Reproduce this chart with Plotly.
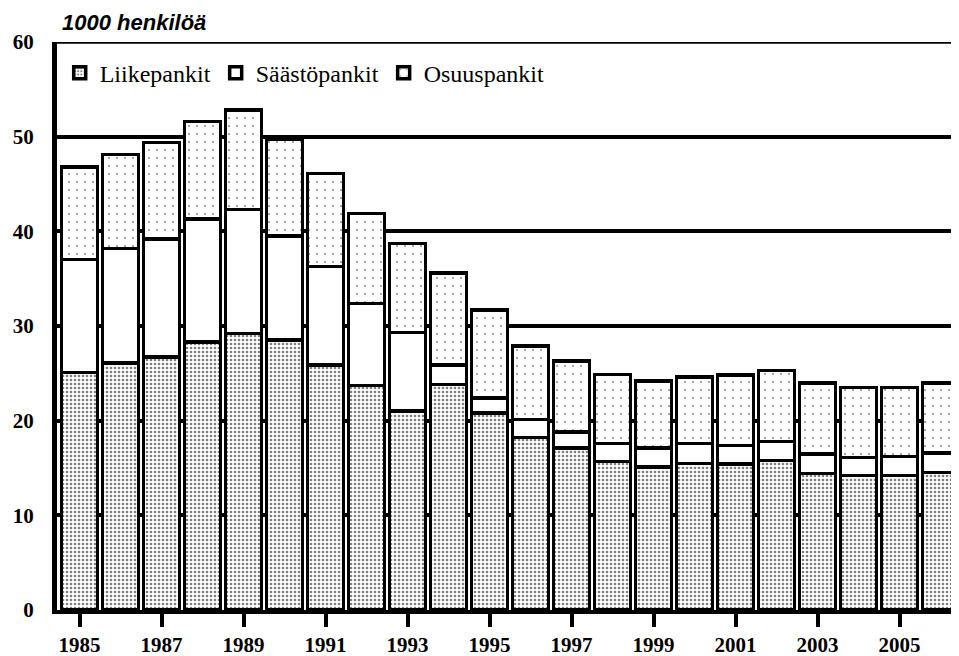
import plotly.graph_objects as go

years = list(range(1985, 2007))
liikepankit = [25.1, 26.1, 26.7, 28.3, 29.2, 28.5, 25.9, 23.7, 21.0, 23.8, 20.8,
               18.2, 17.1, 15.7, 15.1, 15.5, 15.4, 15.8, 14.4, 14.2, 14.2, 14.5]
saastopankit = [11.9, 12.1, 12.5, 13.0, 13.1, 11.0, 10.4, 8.7, 8.3, 2.1, 1.6,
                1.9, 1.7, 1.9, 2.0, 2.1, 2.0, 2.0, 2.1, 1.9, 2.0, 2.1]
osuuspankit = [9.8, 9.9, 10.2, 10.3, 10.5, 10.2, 9.8, 9.5, 9.4, 9.7, 9.3,
               7.8, 7.5, 7.3, 7.1, 7.0, 7.4, 7.5, 7.5, 7.4, 7.3, 7.4]
series_names = ["Liikepankit", "Säästöpankit", "Osuuspankit"]
x_ticks = list(range(1985, 2006, 2))
y_ticks = [0, 10, 20, 30, 40, 50, 60]

serif = "Liberation Serif"
line = dict(color="black", width=3.5)
bw = 0.87

fig = go.Figure()
fig.add_trace(go.Bar(
    x=years, y=liikepankit, name=series_names[0], width=bw,
    marker=dict(color="white", line=line,
                pattern=dict(shape=".", fgcolor="black", bgcolor="white",
                             size=4, solidity=0.35)),
))
fig.add_trace(go.Bar(
    x=years, y=saastopankit, name=series_names[1], width=bw,
    marker=dict(color="white", line=line),
))
fig.add_trace(go.Bar(
    x=years, y=osuuspankit, name=series_names[2], width=bw,
    marker=dict(color="white", line=line,
                pattern=dict(shape=".", fgcolor="black", bgcolor="white",
                             size=8, solidity=0.04)),
))

fig.add_shape(type="line", xref="paper", yref="y", x0=0, x1=1, y0=60, y1=60,
              line=dict(color="black", width=3.5), layer="below")

# page has an 8px body margin, so the figure is sized to fill the remaining view
fig.update_layout(
    width=951, height=648,
    margin=dict(l=49, r=0, t=34, b=46),
    barmode="stack",
    paper_bgcolor="white", plot_bgcolor="white",
    showlegend=True,
    legend=dict(orientation="h", x=0.003, xanchor="left", y=0.945, yanchor="middle",
                traceorder="normal", font=dict(family=serif, size=24, color="black"),
                bgcolor="rgba(0,0,0,0)", itemwidth=30, tracegroupgap=0),
    annotations=[dict(text="<b><i>1000 henkilöä</i></b>", xref="paper", yref="paper",
                      x=0.003, y=1.0335, xanchor="left", yanchor="middle", showarrow=False,
                      font=dict(family="Liberation Sans", size=22, color="black"))],
    xaxis=dict(range=[1984.45, 2006.45], tickvals=x_ticks,
               ticktext=[f"<b>{t}</b>" for t in x_ticks],
               ticks="outside", ticklen=13, tickwidth=3.5, tickcolor="black",
               showline=True, linecolor="black", linewidth=3.5, showgrid=False,
               zeroline=False, automargin=False,
               tickfont=dict(family=serif, size=21, color="black")),
    yaxis=dict(range=[0, 60], tickvals=y_ticks, ticktext=[f"<b>{t}</b>" for t in y_ticks],
               showline=True, linecolor="black", linewidth=5,
               showgrid=True, gridcolor="black", gridwidth=3.5,
               zeroline=False, ticks="", automargin=False,
               tickfont=dict(family=serif, size=21, color="black"),
               ticklabelstandoff=14),
)

fig.write_html("out.html")
